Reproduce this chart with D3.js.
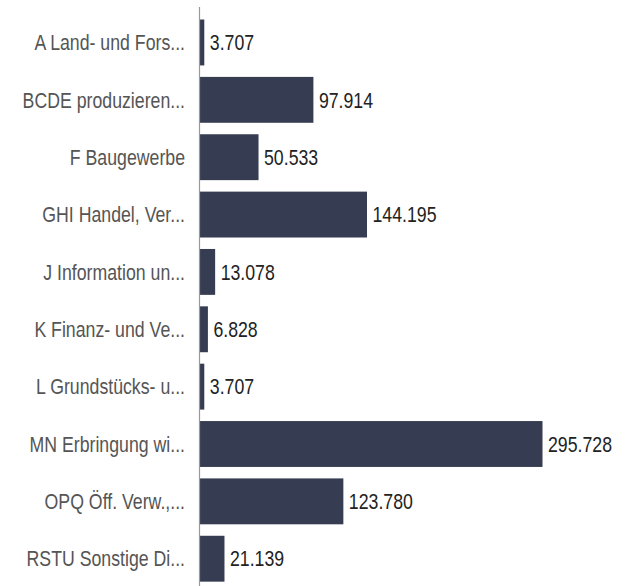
<!DOCTYPE html>
<html>
<head>
<meta charset="utf-8">
<script src="https://cdn.jsdelivr.net/npm/d3@7"></script>
<style>
  html, body { margin: 0; padding: 0; background: #ffffff; }
  svg { display: block; }
  text { font-family: "Liberation Sans", Arial, sans-serif; font-size: 22px; }
</style>
</head>
<body>
<svg id="chart" width="634" height="586"></svg>
<script>
const categories = [
  "A Land- und Fors...",
  "BCDE produzieren...",
  "F Baugewerbe",
  "GHI Handel, Ver...",
  "J Information un...",
  "K Finanz- und Ve...",
  "L Grundstücks- u...",
  "MN Erbringung wi...",
  "OPQ Öff. Verw.,...",
  "RSTU Sonstige Di..."
];
const values = [3707, 97914, 50533, 144195, 13078, 6828, 3707, 295728, 123780, 21139];

const svg = d3.select("#chart");
const sx = 0.805; // narrow font compression

const de = d3.formatLocale({decimal: ",", thousands: ".", grouping: [3], currency: ["", " €"]});
const fmt = de.format(",d");

const x = d3.scaleLinear().domain([0, d3.max(values)]).range([200, 542.5]);
const y = d3.scaleBand().domain(categories).range([13.8, 587.4]).paddingInner(0.2).paddingOuter(0.1);

const data = categories.map((c, i) => ({c, v: values[i]}));

// bars
svg.append("g").selectAll("rect").data(data).join("rect")
  .attr("x", x(0))
  .attr("y", d => y(d.c))
  .attr("width", d => x(d.v) - x(0))
  .attr("height", y.bandwidth())
  .attr("fill", "#363d52");

// category labels
svg.append("g").selectAll("text").data(data).join("text")
  .attr("transform", d => `translate(185,${y(d.c) + y.bandwidth()/2}) scale(${sx},1)`)
  .attr("text-anchor", "end")
  .attr("dy", "0.35em")
  .attr("fill", "#555555")
  .text(d => d.c);

// value labels
svg.append("g").selectAll("text").data(data).join("text")
  .attr("transform", d => `translate(${x(d.v) + 5.5},${y(d.c) + y.bandwidth()/2}) scale(${sx},1)`)
  .attr("text-anchor", "start")
  .attr("dy", "0.35em")
  .attr("fill", "#222222")
  .text(d => fmt(d.v));

// axis line
svg.append("line")
  .attr("x1", 199.5).attr("x2", 199.5)
  .attr("y1", 7).attr("y2", 586)
  .attr("stroke", "#999999")
  .attr("stroke-width", 1.2);
</script>
</body>
</html>
